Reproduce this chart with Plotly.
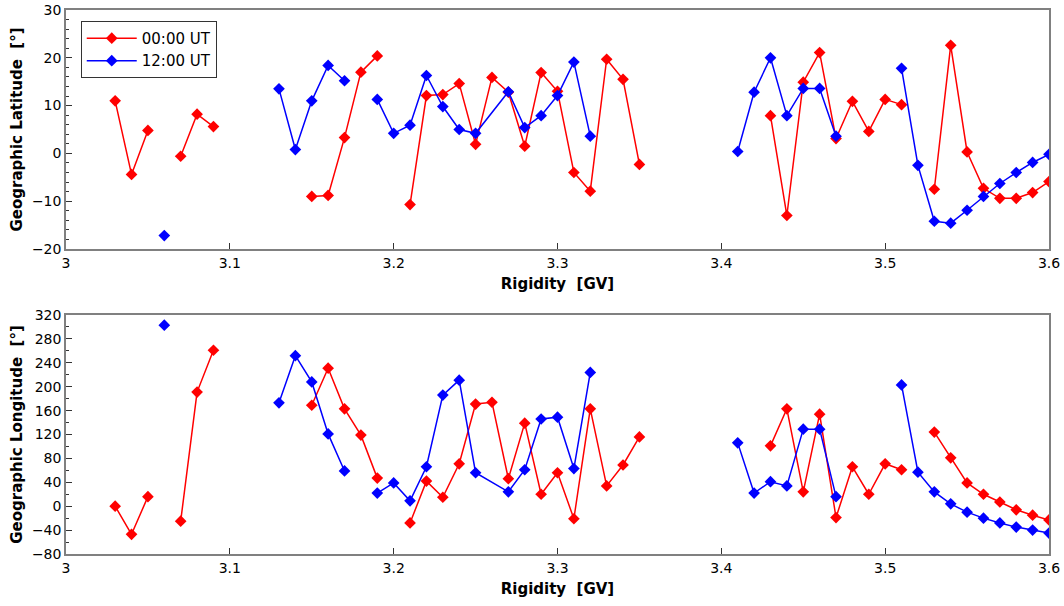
import plotly.graph_objects as go
from plotly.subplots import make_subplots

# Rigidity values (GV); None marks a break in the line
red_x = [3.03, 3.04, 3.05, None, 3.07, 3.08, 3.09, None,
         3.15, 3.16, 3.17, 3.18, 3.19, None,
         3.21, 3.22, 3.23, 3.24, 3.25, 3.26, 3.27, 3.28, 3.29, 3.30, 3.31, 3.32, 3.33, 3.34, 3.35, None,
         3.43, 3.44, 3.45, 3.46, 3.47, 3.48, 3.49, 3.50, 3.51, None,
         3.53, 3.54, 3.55, 3.56, 3.57, 3.58, 3.59, 3.60]
red_lat = [11.0, -4.4, 4.8, None, -0.6, 8.2, 5.6, None,
           -9.0, -8.8, 3.3, 17.0, 20.4, None,
           -10.7, 12.1, 12.3, 14.6, 1.9, 15.9, 12.8, 1.5, 16.9, 13.0, -4.0, -7.9, 19.7, 15.5, -2.3, None,
           7.9, -13.0, 14.9, 21.1, 3.1, 10.9, 4.6, 11.3, 10.2, None,
           -7.5, 22.6, 0.3, -7.3, -9.4, -9.4, -8.2, -5.9]
red_lon = [0, -47, 16, None, -25, 191, 261, None,
           169, 231, 163, 119, 47, None,
           -28, 42, 15, 71, 171, 174, 46, 139, 20, 56, -21, 163, 34, 69, 116, None,
           101, 163, 24, 154, -19, 66, 20, 71, 61, None,
           124, 81, 39, 20, 7, -6, -15, -23]

blue_x = [3.06, None,
          3.13, 3.14, 3.15, 3.16, 3.17, None,
          3.19, 3.20, 3.21, 3.22, 3.23, 3.24, 3.25, 3.27, 3.28, 3.29, 3.30, 3.31, 3.32, None,
          3.41, 3.42, 3.43, 3.44, 3.45, 3.46, 3.47, None,
          3.51, 3.52, 3.53, 3.54, 3.55, 3.56, 3.57, 3.58, 3.59, 3.60]
blue_lat = [-17.2, None,
            13.5, 0.8, 11.0, 18.4, 15.2, None,
            11.3, 4.2, 5.9, 16.3, 9.8, 5.0, 4.2, 12.9, 5.4, 7.9, 12.1, 19.1, 3.6, None,
            0.4, 12.8, 20.0, 7.9, 13.6, 13.6, 3.6, None,
            17.8, -2.5, -14.2, -14.6, -11.9, -9.0, -6.3, -4.0, -1.9, -0.2]
blue_lon = [303, None,
            173, 252, 208, 121, 59, None,
            22, 39, 9, 66, 186, 211, 56, 24, 61, 146, 149, 63, 224, None,
            106, 22, 41, 34, 129, 129, 16, None,
            203, 57, 24, 4, -10, -20, -28, -35, -40, -45]

series_names = ["00:00 UT", "12:00 UT"]
RED = "#ff0000"
BLUE = "#0000ff"

fig = make_subplots(rows=2, cols=1, vertical_spacing=0.1214)

def add(x, y, color, name, row, show):
    fig.add_trace(go.Scatter(
        x=x, y=y, mode="lines+markers", name=name, showlegend=show,
        line=dict(color=color, width=1.5),
        marker=dict(symbol="diamond", size=9, color=color),
        connectgaps=False), row=row, col=1)

add(red_x, red_lat, RED, series_names[0], 1, True)
add(blue_x, blue_lat, BLUE, series_names[1], 1, True)
add(red_x, red_lon, RED, series_names[0], 2, False)
add(blue_x, blue_lon, BLUE, series_names[1], 2, False)

FONT = "DejaVu Sans"
axis_common = dict(
    showgrid=False, zeroline=False, showline=True, linecolor="#808080", linewidth=1.5,
    mirror=True, ticks="inside", tickcolor="#333333", ticklen=6, automargin=False,
    tickfont=dict(family=FONT, size=14, color="#000000"),
)

xkw = dict(axis_common, range=[3.0, 3.6], tickvals=[3.0, 3.1, 3.2, 3.3, 3.4, 3.5, 3.6],
           ticktext=["3", "3.1", "3.2", "3.3", "3.4", "3.5", "3.6"],
           title=dict(text="<b>Rigidity&nbsp;&nbsp;[GV]</b>", font=dict(family=FONT, size=15, color="#000"), standoff=9))
fig.update_xaxes(**xkw, row=1, col=1)
fig.update_xaxes(**xkw, row=2, col=1)

fig.update_yaxes(axis_common, range=[-20, 30], dtick=10, tick0=0,
                 minor=dict(dtick=2, ticks="inside", ticklen=3, tickcolor="#333333"),
                 title=dict(text="<b>Geographic Latitude&nbsp;&nbsp;[°]</b>", font=dict(family=FONT, size=15, color="#000"), standoff=6),
                 row=1, col=1)
fig.update_yaxes(axis_common, range=[-80, 320], dtick=40, tick0=0,
                 minor=dict(dtick=20, ticks="inside", ticklen=3, tickcolor="#333333"),
                 title=dict(text="<b>Geographic Longitude&nbsp;&nbsp;[°]</b>", font=dict(family=FONT, size=15, color="#000"), standoff=6),
                 row=2, col=1)

fig.update_layout(
    width=1064, height=606,
    margin=dict(l=66, r=15, t=10, b=52),
    plot_bgcolor="white", paper_bgcolor="white",
    font=dict(family=FONT, size=14, color="#000"),
    legend=dict(x=0.015, y=0.98, xanchor="left", yanchor="top",
                bordercolor="#333333", borderwidth=1, bgcolor="white",
                font=dict(family=FONT, size=15, color="#000"),
                tracegroupgap=0, itemwidth=50),
)

fig.write_html("out.html")
